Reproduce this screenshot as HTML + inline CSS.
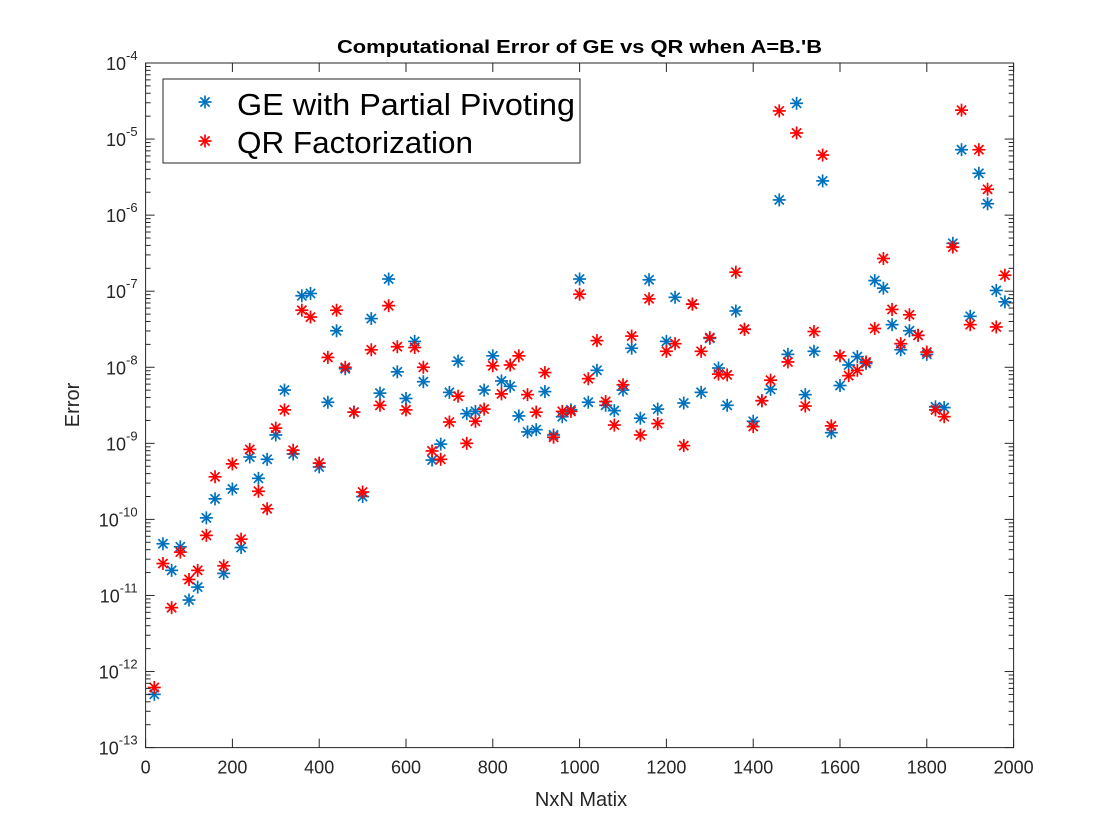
<!DOCTYPE html>
<html><head><meta charset="utf-8"><style>
html,body{margin:0;padding:0;background:#fff;}
svg{display:block;font-family:"Liberation Sans",Arial,sans-serif;}
</style></head><body>
<svg id="chart" width="1120" height="840" viewBox="0 0 1120 840" xmlns="http://www.w3.org/2000/svg">
<rect x="0" y="0" width="1120" height="840" fill="#ffffff"/>
<rect x="145.6" y="63" width="868" height="684.6" fill="#ffffff"/>
<g id="marks"></g>
<g id="axes"></g>
<text x="337" y="53" textLength="485" lengthAdjust="spacingAndGlyphs" font-size="18" font-weight="bold" fill="#000">Computational Error of GE vs QR when A=B.'B</text>
<text x="581" y="806" text-anchor="middle" font-size="20" fill="#262626">NxN Matix</text>
<text transform="translate(79,405) rotate(-90)" text-anchor="middle" font-size="20" fill="#262626">Error</text>
<g>
<rect x="163" y="79" width="417" height="84" fill="#fff" stroke="#262626" stroke-width="1"/>
<g id="leg1"><text x="237" y="115" font-size="31" textLength="338" lengthAdjust="spacingAndGlyphs" fill="#000">GE with Partial Pivoting</text></g>
<g id="leg2"><text x="237" y="153" font-size="31" textLength="236" lengthAdjust="spacingAndGlyphs" fill="#000">QR Factorization</text></g>
</g>
</svg>
<script>
const sizes = [20,40,60,80,100,120,140,160,180,200,220,240,260,280,300,320,340,360,380,400,420,440,460,480,500,520,540,560,580,600,620,640,660,680,700,720,740,760,780,800,820,840,860,880,900,920,940,960,980,1000,1020,1040,1060,1080,1100,1120,1140,1160,1180,1200,1220,1240,1260,1280,1300,1320,1340,1360,1380,1400,1420,1440,1460,1480,1500,1520,1540,1560,1580,1600,1620,1640,1660,1680,1700,1720,1740,1760,1780,1800,1820,1840,1860,1880,1900,1920,1940,1960,1980];
// log10 of error values
const geLog = [-12.30,-10.32,-10.67,-10.36,-11.06,-10.89,-9.98,-9.73,-10.71,-9.60,-10.37,-9.18,-9.46,-9.21,-8.89,-8.30,-9.14,-7.06,-7.03,-9.31,-8.46,-7.52,-8.02,-8.59,-9.70,-7.36,-8.34,-6.84,-8.06,-8.41,-7.66,-8.19,-9.22,-9.01,-8.33,-7.92,-8.61,-8.58,-8.30,-7.85,-8.18,-8.25,-8.64,-8.85,-8.82,-8.32,-8.89,-8.65,-8.56,-6.84,-8.46,-8.04,-8.50,-8.57,-8.30,-7.75,-8.67,-6.85,-8.55,-7.66,-7.08,-8.47,-7.17,-8.33,-7.62,-8.01,-8.50,-7.26,-7.50,-8.71,-8.44,-8.29,-5.80,-7.83,-4.53,-8.36,-7.79,-5.55,-8.86,-8.24,-7.97,-7.86,-7.95,-6.86,-6.96,-7.44,-7.77,-7.52,-7.58,-7.83,-8.52,-8.53,-6.37,-5.14,-7.33,-5.45,-5.85,-6.99,-7.14];
const qrLog = [-12.21,-10.58,-11.16,-10.43,-10.79,-10.67,-10.21,-9.44,-10.61,-9.27,-10.26,-9.08,-9.63,-9.86,-8.80,-8.56,-9.09,-7.25,-7.34,-9.26,-7.87,-7.25,-8.00,-8.59,-9.64,-7.77,-8.50,-7.19,-7.73,-8.56,-7.74,-8.00,-9.10,-9.21,-8.72,-8.38,-9.00,-8.71,-8.55,-7.98,-8.35,-7.97,-7.85,-8.36,-8.59,-8.07,-8.92,-8.58,-8.58,-7.04,-8.15,-7.65,-8.45,-8.76,-8.23,-7.59,-8.89,-7.10,-8.74,-7.79,-7.69,-9.03,-7.17,-7.79,-7.61,-8.09,-8.10,-6.75,-7.50,-8.78,-8.44,-8.17,-4.63,-7.93,-4.92,-8.51,-7.53,-5.21,-8.77,-7.85,-8.11,-8.04,-7.93,-7.49,-6.57,-7.24,-7.69,-7.31,-7.58,-7.80,-8.56,-8.65,-6.42,-4.62,-7.44,-5.14,-5.66,-7.47,-6.79];
const xTicks = [0,200,400,600,800,1000,1200,1400,1600,1800,2000];
const yTickExps = [-4,-5,-6,-7,-8,-9,-10,-11,-12,-13];

const L=145.6,R=1013.6,T=63,B=747.6;
const xMin=0,xMax=2000,yMinE=-13,yMaxE=-4;
function xs(v){return L+(v-xMin)/(xMax-xMin)*(R-L);}
function ys(e){return B-(e-yMinE)/(yMaxE-yMinE)*(B-T);}
const NS="http://www.w3.org/2000/svg";
function mk(tag,attrs,parent){const el=document.createElementNS(NS,tag);for(const k in attrs)el.setAttribute(k,attrs[k]);parent.appendChild(el);return el;}
const marks=document.getElementById('marks');
const axes=document.getElementById('axes');

function star(cx,cy,color,parent,name){
  const g=mk('g',{stroke:color,'stroke-width':1.7,fill:'none'},parent);
  
  
  const r=6.5,d=4.6;
  mk('line',{x1:cx-r,y1:cy,x2:cx+r,y2:cy},g);
  mk('line',{x1:cx,y1:cy-r,x2:cx,y2:cy+r},g);
  mk('line',{x1:cx-d,y1:cy-d,x2:cx+d,y2:cy+d},g);
  mk('line',{x1:cx-d,y1:cy+d,x2:cx+d,y2:cy-d},g);
  return g;
}
const geG=mk('g',{},marks);


const qrG=mk('g',{},marks);


sizes.forEach((n,i)=>{ star(xs(n),ys(geLog[i]),'#0072BD',geG,'ge-point'); });
sizes.forEach((n,i)=>{ star(xs(n),ys(qrLog[i]),'#FF0000',qrG,'qr-point'); });

// legend markers
star(205,102,'#0072BD',document.getElementById('leg1'),'legend-marker-ge');
star(205,141,'#FF0000',document.getElementById('leg2'),'legend-marker-qr');

const box=mk('rect',{x:L,y:T,width:R-L,height:B-T,fill:'none',stroke:'#262626','stroke-width':1},axes);


xTicks.forEach(v=>{
  const x=xs(v);
  mk('line',{x1:x,y1:B,x2:x,y2:B-9,stroke:'#262626','stroke-width':1},axes);
  mk('line',{x1:x,y1:T,x2:x,y2:T+9,stroke:'#262626','stroke-width':1},axes);
  const t=mk('text',{x:x,y:B+26,'text-anchor':'middle','font-size':18,fill:'#262626'},axes);
  
  
  t.textContent=String(v);
});
yTickExps.forEach(e=>{
  const y=ys(e);
  mk('line',{x1:L,y1:y,x2:L+9,y2:y,stroke:'#262626','stroke-width':1},axes);
  mk('line',{x1:R,y1:y,x2:R-9,y2:y,stroke:'#262626','stroke-width':1},axes);
  if(e>yMinE){
    for(let m=2;m<=9;m++){
      const yy=ys(e-1+Math.log10(m));
      mk('line',{x1:L,y1:yy,x2:L+5,y2:yy,stroke:'#262626','stroke-width':1},axes);
      mk('line',{x1:R,y1:yy,x2:R-5,y2:yy,stroke:'#262626','stroke-width':1},axes);
    }
  }
  const t=mk('text',{x:L-8,y:y+7,'text-anchor':'end','font-size':18,fill:'#262626'},axes);
  
  
  const a=document.createElementNS(NS,'tspan');a.textContent='10';t.appendChild(a);
  const s=document.createElementNS(NS,'tspan');s.setAttribute('dy','-10');s.setAttribute('font-size','13');s.textContent=String(e);t.appendChild(s);
});
</script>
</body></html>
